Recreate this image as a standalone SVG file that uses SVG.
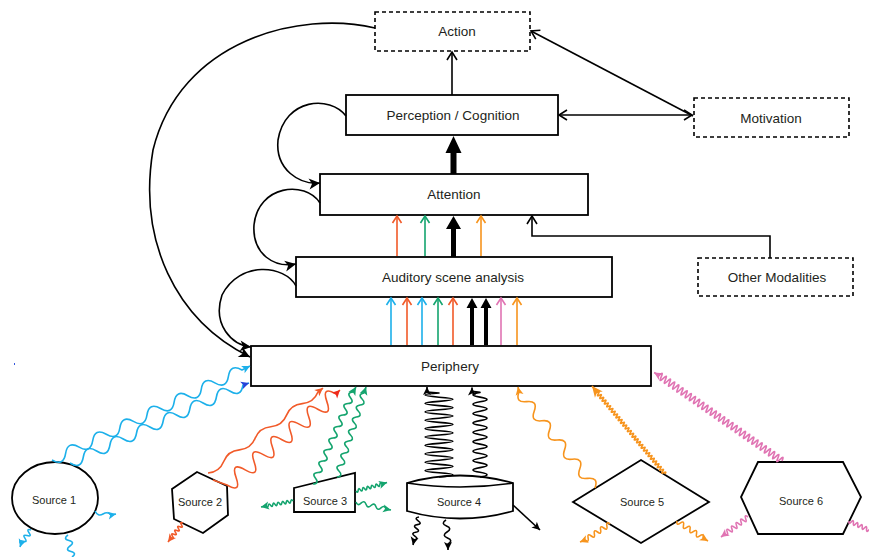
<svg xmlns="http://www.w3.org/2000/svg" width="869" height="557" viewBox="0 0 869 557">
<style>
.box{fill:#fff;stroke:#000;stroke-width:1.8}
.dash{fill:#fff;stroke:#000;stroke-width:1.6;stroke-dasharray:4 3}
.src{fill:#fff;stroke:#000;stroke-width:1.8}
.lbl{font-family:"Liberation Sans",Arial,sans-serif;font-size:13.5px;fill:#231f20;text-anchor:middle}
.slbl{font-family:"Liberation Sans",Arial,sans-serif;font-size:11px;fill:#231f20;text-anchor:middle}
.k{fill:none;stroke:#000;stroke-width:1.6}
.w{fill:none;stroke-width:1.6;stroke-linejoin:round}
.B{stroke:#1cb0ea}.R{stroke:#f15a29}.G{stroke:#14a46e}.O{stroke:#f7941d}.P{stroke:#e074b3}.K{stroke:#000}
</style>
<defs>
<marker id="aK" markerUnits="userSpaceOnUse" orient="auto" overflow="visible" markerWidth="1" markerHeight="1"><path d="M-11,-5.5 L0,0 L-11,5.5 L-8,0 Z" fill="#000"/></marker>
<marker id="sK" markerUnits="userSpaceOnUse" orient="auto" overflow="visible" markerWidth="1" markerHeight="1"><path d="M-8,-4 L0,0 L-8,4 L-6,0 Z" fill="#000"/></marker>
<marker id="sB" markerUnits="userSpaceOnUse" orient="auto" overflow="visible" markerWidth="1" markerHeight="1"><path d="M-8,-4 L0,0 L-8,4 L-6,0 Z" fill="#1cb0ea"/></marker>
<marker id="sD" markerUnits="userSpaceOnUse" orient="auto" overflow="visible" markerWidth="1" markerHeight="1"><path d="M-8,-4 L0,0 L-8,4 L-6,0 Z" fill="#2643d8"/></marker>
<marker id="sR" markerUnits="userSpaceOnUse" orient="auto" overflow="visible" markerWidth="1" markerHeight="1"><path d="M-8,-4 L0,0 L-8,4 L-6,0 Z" fill="#f15a29"/></marker>
<marker id="sRr" markerUnits="userSpaceOnUse" orient="auto" overflow="visible" markerWidth="1" markerHeight="1"><path d="M-8,-4 L0,0 L-8,4 L-6,0 Z" fill="#ee2a1c"/></marker>
<marker id="sG" markerUnits="userSpaceOnUse" orient="auto" overflow="visible" markerWidth="1" markerHeight="1"><path d="M-8,-4 L0,0 L-8,4 L-6,0 Z" fill="#14a46e"/></marker>
<marker id="sO" markerUnits="userSpaceOnUse" orient="auto" overflow="visible" markerWidth="1" markerHeight="1"><path d="M-8,-4 L0,0 L-8,4 L-6,0 Z" fill="#f7941d"/></marker>
<marker id="bO" markerUnits="userSpaceOnUse" orient="auto" overflow="visible" markerWidth="1" markerHeight="1"><path d="M-11,-5 L0,0 L-11,5 L-8,0 Z" fill="#f7941d"/></marker>
<marker id="sP" markerUnits="userSpaceOnUse" orient="auto" overflow="visible" markerWidth="1" markerHeight="1"><path d="M-8,-4 L0,0 L-8,4 L-6,0 Z" fill="#e074b3"/></marker>
<marker id="oK" markerUnits="userSpaceOnUse" orient="auto-start-reverse" overflow="visible" markerWidth="1" markerHeight="1"><path d="M-8,-5 L0,0 L-8,5" fill="none" stroke="#000" stroke-width="1.6"/></marker>
<marker id="oB" markerUnits="userSpaceOnUse" orient="auto" overflow="visible" markerWidth="1" markerHeight="1"><path d="M-7,-4.5 L0,0 L-7,4.5" fill="none" stroke="#1cb0ea" stroke-width="1.6"/></marker>
<marker id="oR" markerUnits="userSpaceOnUse" orient="auto" overflow="visible" markerWidth="1" markerHeight="1"><path d="M-7,-4.5 L0,0 L-7,4.5" fill="none" stroke="#f15a29" stroke-width="1.6"/></marker>
<marker id="oG" markerUnits="userSpaceOnUse" orient="auto" overflow="visible" markerWidth="1" markerHeight="1"><path d="M-7,-4.5 L0,0 L-7,4.5" fill="none" stroke="#14a46e" stroke-width="1.6"/></marker>
<marker id="oO" markerUnits="userSpaceOnUse" orient="auto" overflow="visible" markerWidth="1" markerHeight="1"><path d="M-7,-4.5 L0,0 L-7,4.5" fill="none" stroke="#f7941d" stroke-width="1.6"/></marker>
<marker id="oP" markerUnits="userSpaceOnUse" orient="auto" overflow="visible" markerWidth="1" markerHeight="1"><path d="M-7,-4.5 L0,0 L-7,4.5" fill="none" stroke="#e074b3" stroke-width="1.6"/></marker>
</defs>
<rect width="869" height="557" fill="#fff"/>

<g id="nodes">
<g id="action"><rect class="dash" x="375" y="12" width="155" height="39"/><text class="lbl" x="457" y="36">Action</text></g>
<g id="perception"><rect class="box" x="346" y="95" width="212" height="40"/><text class="lbl" x="453" y="120">Perception / Cognition</text></g>
<g id="motivation"><rect class="dash" x="694" y="98" width="155" height="39"/><text class="lbl" x="771" y="122.5">Motivation</text></g>
<g id="attention"><rect class="box" x="320" y="174" width="268" height="41"/><text class="lbl" x="454" y="199">Attention</text></g>
<g id="asa"><rect class="box" x="296" y="257" width="316" height="40"/><text class="lbl" x="453" y="281.5">Auditory scene analysis</text></g>
<g id="other"><rect class="dash" x="698" y="258" width="155" height="38"/><text class="lbl" x="777" y="281.5">Other Modalities</text></g>
<g id="periphery"><rect class="box" x="251" y="346" width="400" height="40"/><text class="lbl" x="450" y="370.5">Periphery</text></g>
<g id="source1"><ellipse class="src" cx="55" cy="498" rx="43" ry="36"/><text class="slbl" x="54" y="504">Source 1</text></g>
<g id="source2"><polygon class="src" points="197,472 227,486 228,515 203,533 174,519 172,489"/><text class="slbl" x="200" y="506">Source 2</text></g>
<g id="source3"><polygon class="src" points="294,488 355,473 355,512 294,512"/><text class="slbl" x="325" y="505">Source 3</text></g>
<g id="source4"><path class="src" d="M407,483 Q460,468 513,483 L513,511 Q460,526 407,511 Z"/><path class="k" stroke-width="1.8" d="M407,483 Q460,491 513,483"/><text class="slbl" x="459" y="506">Source 4</text></g>
<g id="source5"><polygon class="src" points="573,502 641,460 709,502 641,543"/><text class="slbl" x="642" y="506">Source 5</text></g>
<g id="source6"><polygon class="src" points="758,462 843,462 861,497 843,534 758,534 741,497"/><text class="slbl" x="801" y="505">Source 6</text></g>
</g>

<g id="connectors">
<path class="k" d="M452,95 V52" marker-end="url(#oK)"/>
<path class="k" d="M559,115 H692" marker-start="url(#oK)" marker-end="url(#oK)"/>
<path class="k" d="M693,116 L531,31" marker-end="url(#oK)"/>
<path class="k" d="M770,258 V236 H532 V216" marker-end="url(#oK)"/>
<path class="k" d="M346,116 C330,95 285,98 278,140 C275,170 300,185 320,183" marker-end="url(#aK)"/>
<path class="k" d="M320,203 C305,180 258,185 254,225 C252,255 275,268 296,264" marker-end="url(#aK)"/>
<path class="k" d="M296,286 C285,265 240,260 222,295 C212,325 232,345 251,347" marker-end="url(#aK)"/>
<path class="k" d="M375,28 C300,10 180,40 153,150 C138,240 175,320 250,357" marker-end="url(#aK)"/>
<path d="M450.5,174 V153 H445.5 L453.5,136 L461.5,153 H456.5 V174 Z" fill="#000"/>
<path d="M451,257 V229 H446 L453.5,216 L461,229 H456 V257 Z" fill="#000"/>
<path d="M470,345 V308 H466.5 L472,298 L477.5,308 H474 V345 Z" fill="#000"/>
<path d="M484,345 V308 H480.5 L486,298 L491.5,308 H488 V345 Z" fill="#000"/>
<path class="w R" d="M397,256 V216" marker-end="url(#oR)"/>
<path class="w G" d="M425,256 V216" marker-end="url(#oG)"/>
<path class="w O" d="M481,256 V216" marker-end="url(#oO)"/>
<path class="w B" d="M391,345 V298" marker-end="url(#oB)"/>
<path class="w R" d="M407,345 V298" marker-end="url(#oR)"/>
<path class="w B" d="M422,345 V298" marker-end="url(#oB)"/>
<path class="w G" d="M438,345 V298" marker-end="url(#oG)"/>
<path class="w R" d="M453,345 V298" marker-end="url(#oR)"/>
<path class="w P" d="M501,345 V298" marker-end="url(#oP)"/>
<path class="w O" d="M517,345 V298" marker-end="url(#oO)"/>
<path class="w B" d="M52,460 q11.5,6.73 13.57,-6.43 t13.57,-6.43 13.57,-6.43 13.57,-6.43 13.57,-6.43 13.57,-6.43 13.57,-6.43 13.57,-6.43 13.57,-6.43 13.57,-6.43 13.57,-6.43 13.57,-6.43 13.57,-6.43 13.57,-6.43 l8,-4" marker-end="url(#sB)"/>
<path class="w B" d="M70,463 q11.17,7.02 13.31,-6 t13.31,-6 13.31,-6 13.31,-6 13.31,-6 13.31,-6 13.31,-6 13.31,-6 13.31,-6 13.31,-6 13.31,-6 13.31,-6 13.31,-6 l6,-2" marker-end="url(#sD)"/>
<path class="w B" d="M95,511 q3,6 8,3 t8,1 l5,-1" marker-end="url(#sB)"/>
<path class="w B" d="M31,530 q-5.07,-1.51 -2,2.8 t-2,2.8 -2,2.8 -2,2.8 -2,2.8 l-1,3" marker-end="url(#sB)"/>
<path class="w B" d="M68,535 q-5.39,3.82 1,5.5 t1,5.5 1,5.5 1,5.5"/>
<path class="w R" d="M208,473 q11.42,-0.96 15.71,-11.57 t15.71,-11.57 15.71,-11.57 15.71,-11.57 15.71,-11.57 15.71,-11.57 15.71,-11.57 l5,-4" marker-end="url(#sR)"/>
<path class="w R" d="M213,480 L227,485 q14.8,8.5 9.08,-7.58 t9.08,-7.58 9.08,-7.58 9.08,-7.58 9.08,-7.58 9.08,-7.58 9.08,-7.58 9.08,-7.58 9.08,-7.58 9.08,-7.58 9.08,-7.58 9.08,-7.58 l4,-4" marker-end="url(#sRr)"/>
<path class="w R" d="M183,523 q-3.87,-1.56 -1.5,1.875 t-1.5,1.875 -1.5,1.875 -1.5,1.875 -1.5,1.875 -1.5,1.875 -1.5,1.875 -1.5,1.875 l-3,4" marker-end="url(#sR)"/>
<path class="w G" d="M313,484 q6.75,-0.49 2.5,-5.75 t2.5,-5.75 2.5,-5.75 2.5,-5.75 2.5,-5.75 2.5,-5.75 2.5,-5.75 2.5,-5.75 2.5,-5.75 2.5,-5.75 2.5,-5.75 2.5,-5.75 2.5,-5.75 2.5,-5.75 2.5,-5.75 2.5,-5.75 l3,-5" marker-end="url(#sG)"/>
<path class="w G" d="M337,477 q6.67,-1.16 1.93,-6 t1.93,-6 1.93,-6 1.93,-6 1.93,-6 1.93,-6 1.93,-6 1.93,-6 1.93,-6 1.93,-6 1.93,-6 1.93,-6 1.93,-6 1.93,-6 l2,-6" marker-end="url(#sG)"/>
<path class="w G" d="M293,501 q-1.67,-2.74 -2.25,0.42 t-2.25,0.42 -2.25,0.42 -2.25,0.42 -2.25,0.42 -2.25,0.42 -2.25,0.42 -2.25,0.42 -2.25,0.42 -2.25,0.42 -2.25,0.42 -2.25,0.42 l-5,1" marker-end="url(#sG)"/>
<path class="w G" d="M356,491 q1.86,2.61 2.17,-0.58 t2.17,-0.58 2.17,-0.58 2.17,-0.58 2.17,-0.58 2.17,-0.58 2.17,-0.58 2.17,-0.58 2.17,-0.58 2.17,-0.58 2.17,-0.58 2.17,-0.58 l5,-1.5" marker-end="url(#sG)"/>
<path class="w G" d="M356,502 q1.59,4.48 5,1.17 t5,1.17 5,1.17 5,1.17 5,1.17 5,1.17 l5,1" marker-end="url(#sG)"/>
<path class="w K" stroke-width="2.1" d="M439,477 q28,-2.1 0,-4.2 t0,-4.2 0,-4.2 0,-4.2 0,-4.2 0,-4.2 0,-4.2 0,-4.2 0,-4.2 0,-4.2 0,-4.2 0,-4.2 0,-4.2 0,-4.2 0,-4.2 0,-4.2 0,-4.2 0,-4.2 0,-4.2 0,-4.2 l-12,-1 l0,-5" marker-end="url(#sK)"/>
<path class="w K" stroke-width="1.6" d="M480,477 q14,-2.35 0,-4.7 t0,-4.7 0,-4.7 0,-4.7 0,-4.7 0,-4.7 0,-4.7 0,-4.7 0,-4.7 0,-4.7 0,-4.7 0,-4.7 0,-4.7 0,-4.7 0,-4.7 0,-4.7 0,-4.7 0,-4.7 l-8,-1 l0,-4" marker-end="url(#sK)"/>
<path class="w K" d="M419,517 q-5.32,0.86 -0.83,3.83 t-0.83,3.83 -0.83,3.83 -0.83,3.83 -0.83,3.83 -0.83,3.83 l-1,5" marker-end="url(#sK)"/>
<path class="w K" d="M446,520 q-5.73,3.5 0.5,6 t0.5,6 0.5,6 0.5,6 l0,6" marker-end="url(#sK)"/>
<path class="w K" stroke-width="2" d="M513,505 L540,530" marker-end="url(#sK)"/>
<path class="w O" d="M595,488 q4.04,-11.01 -7.6,-9.6 t-7.6,-9.6 -7.6,-9.6 -7.6,-9.6 -7.6,-9.6 -7.6,-9.6 -7.6,-9.6 -7.6,-9.6 -7.6,-9.6 -7.6,-9.6 l-1,-5" marker-end="url(#sO)"/>
<path class="w O" stroke-width="2.2" d="M665,474 q2.19,-2.99 -1.15,-1.383 t-1.15,-1.383 -1.15,-1.383 -1.15,-1.383 -1.15,-1.383 -1.15,-1.383 -1.15,-1.383 -1.15,-1.383 -1.15,-1.383 -1.15,-1.383 -1.15,-1.383 -1.15,-1.383 -1.15,-1.383 -1.15,-1.383 -1.15,-1.383 -1.15,-1.383 -1.15,-1.383 -1.15,-1.383 -1.15,-1.383 -1.15,-1.383 -1.15,-1.383 -1.15,-1.383 -1.15,-1.383 -1.15,-1.383 -1.15,-1.383 -1.15,-1.383 -1.15,-1.383 -1.15,-1.383 -1.15,-1.383 -1.15,-1.383 -1.15,-1.383 -1.15,-1.383 -1.15,-1.383 -1.15,-1.383 -1.15,-1.383 -1.15,-1.383 -1.15,-1.383 -1.15,-1.383 -1.15,-1.383 -1.15,-1.383 -1.15,-1.383 -1.15,-1.383 -1.15,-1.383 -1.15,-1.383 -1.15,-1.383 -1.15,-1.383 -1.15,-1.383 -1.15,-1.383 -1.15,-1.383 -1.15,-1.383 -1.15,-1.383 -1.15,-1.383 -1.15,-1.383 -1.15,-1.383 -1.15,-1.383 -1.15,-1.383 -1.15,-1.383 -1.15,-1.383 -1.15,-1.383 -1.15,-1.383 l-4,-5" marker-end="url(#bO)"/>
<path class="w O" d="M610,524 q-4.25,-3.21 -3.125,2 t-3.125,2 -3.125,2 -3.125,2 -3.125,2 -3.125,2 -3.125,2 -3.125,2 l-5,2" marker-end="url(#sO)"/>
<path class="w O" d="M677,521 q-1.11,5.24 3.25,2.125 t3.25,2.125 3.25,2.125 3.25,2.125 3.25,2.125 3.25,2.125 3.25,2.125 3.25,2.125 l5,3" marker-end="url(#sO)"/>
<path class="w P" stroke-width="1.8" d="M782,461 q2.96,-6.47 -2.083,-1.45 t-2.083,-1.45 -2.083,-1.45 -2.083,-1.45 -2.083,-1.45 -2.083,-1.45 -2.083,-1.45 -2.083,-1.45 -2.083,-1.45 -2.083,-1.45 -2.083,-1.45 -2.083,-1.45 -2.083,-1.45 -2.083,-1.45 -2.083,-1.45 -2.083,-1.45 -2.083,-1.45 -2.083,-1.45 -2.083,-1.45 -2.083,-1.45 -2.083,-1.45 -2.083,-1.45 -2.083,-1.45 -2.083,-1.45 -2.083,-1.45 -2.083,-1.45 -2.083,-1.45 -2.083,-1.45 -2.083,-1.45 -2.083,-1.45 -2.083,-1.45 -2.083,-1.45 -2.083,-1.45 -2.083,-1.45 -2.083,-1.45 -2.083,-1.45 -2.083,-1.45 -2.083,-1.45 -2.083,-1.45 -2.083,-1.45 -2.083,-1.45 -2.083,-1.45 -2.083,-1.45 -2.083,-1.45 -2.083,-1.45 -2.083,-1.45 -2.083,-1.45 -2.083,-1.45 -2.083,-1.45 -2.083,-1.45 -2.083,-1.45 -2.083,-1.45 -2.083,-1.45 -2.083,-1.45 -2.083,-1.45 -2.083,-1.45 -2.083,-1.45 -2.083,-1.45 -2.083,-1.45 l-5,-3" marker-end="url(#sP)"/>
<path class="w P" d="M748,517 q-4.12,-3.17 -2.3,1.7 t-2.3,1.7 -2.3,1.7 -2.3,1.7 -2.3,1.7 -2.3,1.7 -2.3,1.7 -2.3,1.7 -2.3,1.7 -2.3,1.7 l-4,3" marker-end="url(#sP)"/>
<path class="w P" d="M849,521 q-0.55,4.14 2.2,1 t2.2,1 2.2,1 2.2,1 2.2,1 2.2,1 2.2,1 2.2,1 2.2,1 2.2,1"/>
</g>
<rect x="14" y="363" width="1" height="2" fill="#3355dd"/>
</svg>
